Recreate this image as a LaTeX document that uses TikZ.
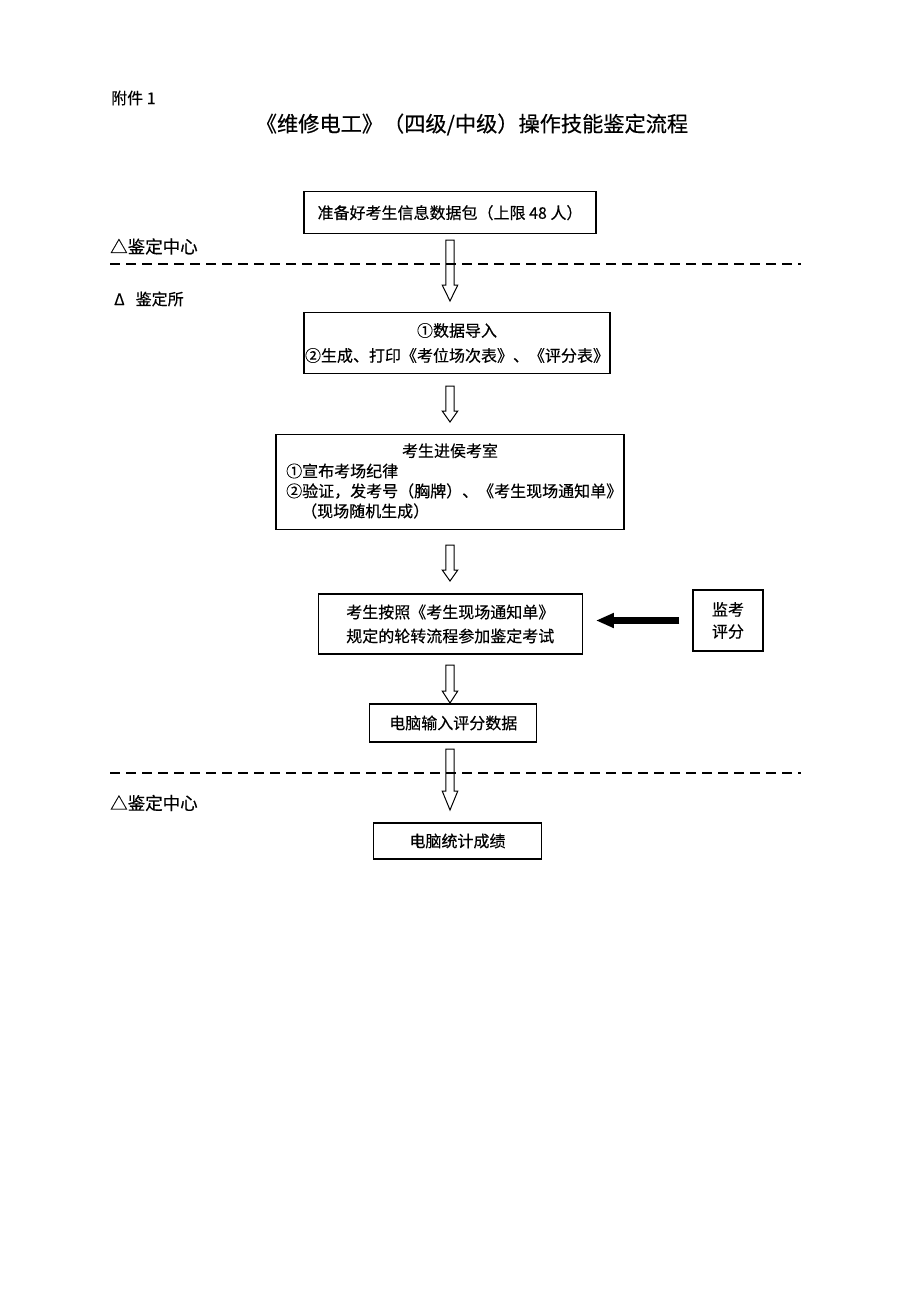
\documentclass[tikz,border=0pt]{standalone}
\usepackage{fontspec}
\setmainfont{Noto Sans CJK SC}[FakeBold=0.35]
\usetikzlibrary{calc,arrows.meta}
\tikzset{
  box/.style={draw, line width=1.2pt, inner sep=0pt, align=center, font=\fontsize{16}{24}\selectfont},
  lbl/.style={inner sep=0pt, anchor=west, font=\fontsize{16}{24}\selectfont},
  big/.style={inner sep=0pt, anchor=west, font=\fontsize{17.5}{24}\selectfont},
  sepline/.style={line width=2.2pt, dash pattern=on 9.5pt off 6.5pt},
  hollow/.style={line width=1pt},
}
\newcommand\harrow[3]{%
  \draw[hollow] let \p1=(#1), \p2=(#2) in
    (\x1-4.2pt,\y1) -- (\x1+4.2pt,\y1) -- (\x1+4.2pt,\y2+#3pt) -- (\x1+7.8pt,\y2+#3pt)
    -- (\x1,\y2) -- (\x1-7.8pt,\y2+#3pt) -- (\x1-4.2pt,\y2+#3pt) -- cycle;}
\begin{document}
\begin{tikzpicture}[x=1pt,y=-1pt]
\useasboundingbox (0,0) rectangle (920,1302);
\fill[white] (0,0) rectangle (920,1302);

% headings
\node[lbl] (att) at (111,98) {附件 1};
\node[inner sep=0pt, font=\fontsize{21.2}{24}\selectfont] (title) at (472,124.5) {《维修电工》（四级/中级）操作技能鉴定流程};

% boxes
\node[box, minimum width=292, minimum height=42] (b1) at (450,212.7) {准备好考生信息数据包（上限 48 人）};
\node[box, minimum width=306, minimum height=61, font=\fontsize{16}{25}\selectfont] (b2) at (457,343) {①数据导入\\②生成、打印《考位场次表》、《评分表》};
\node[box, minimum width=348, minimum height=95] (b3) at (450,481.7) {};
\node[lbl, anchor=center] (b3t) at (450,450.7) {考生进侯考室};
\node[lbl] (b3a) at (286,471) {①宣布考场纪律};
\node[lbl] (b3b) at (286,491) {②验证，发考号（胸牌）、《考生现场通知单》};
\node[lbl] (b3c) at (301,511) {（现场随机生成）};
\node[box, minimum width=264, minimum height=60] (b4) at (450.3,624) {考生按照《考生现场通知单》\\规定的轮转流程参加鉴定考试};
\node[box, minimum width=70, minimum height=61, font=\fontsize{16}{22}\selectfont] (b5) at (728,620.5) {监考\\评分};
\node[box, minimum width=167, minimum height=38] (b6) at (453.3,723) {电脑输入评分数据};
\node[box, minimum width=168, minimum height=36] (b7) at (457.5,841) {电脑统计成绩};

% region labels
\node[big] (c1) at (110,246.5) {△鉴定中心};
\node[lbl] (s1) at (114,299) {Δ\hspace{11pt}鉴定所};
\node[big] (c2) at (110,803) {△鉴定中心};

% separators
\coordinate (d1l) at (110,264); \coordinate (d1r) at (801,264);
\coordinate (d2l) at (110,773); \coordinate (d2r) at (801,773);
\draw[sepline] (d1l) -- (d1r);
\draw[sepline] (d2l) -- (d2r);

% hollow arrows
\coordinate (a1t) at (450,240); \coordinate (a1b) at (450,301);
\coordinate (a2t) at (450,386); \coordinate (a2b) at (450,422);
\coordinate (a3t) at (450,545); \coordinate (a3b) at (450,581);
\coordinate (a4t) at (450,665); \coordinate (a4b) at (450,703);
\coordinate (a5t) at (450,749); \coordinate (a5b) at (450,810);
\harrow{a1t}{a1b}{16}
\harrow{a2t}{a2b}{11}
\harrow{a3t}{a3b}{11}
\harrow{a4t}{a4b}{12}
\harrow{a5t}{a5b}{19}

% solid arrow
\coordinate (bs) at ($(b5.west)+(-13,0)$);
\coordinate (be) at ($(b4.east)+(13,0)$);
\draw[line width=7pt, -{Triangle[length=18pt,width=14pt]}] (bs) -- (be |- bs);
\end{tikzpicture}
\end{document}
